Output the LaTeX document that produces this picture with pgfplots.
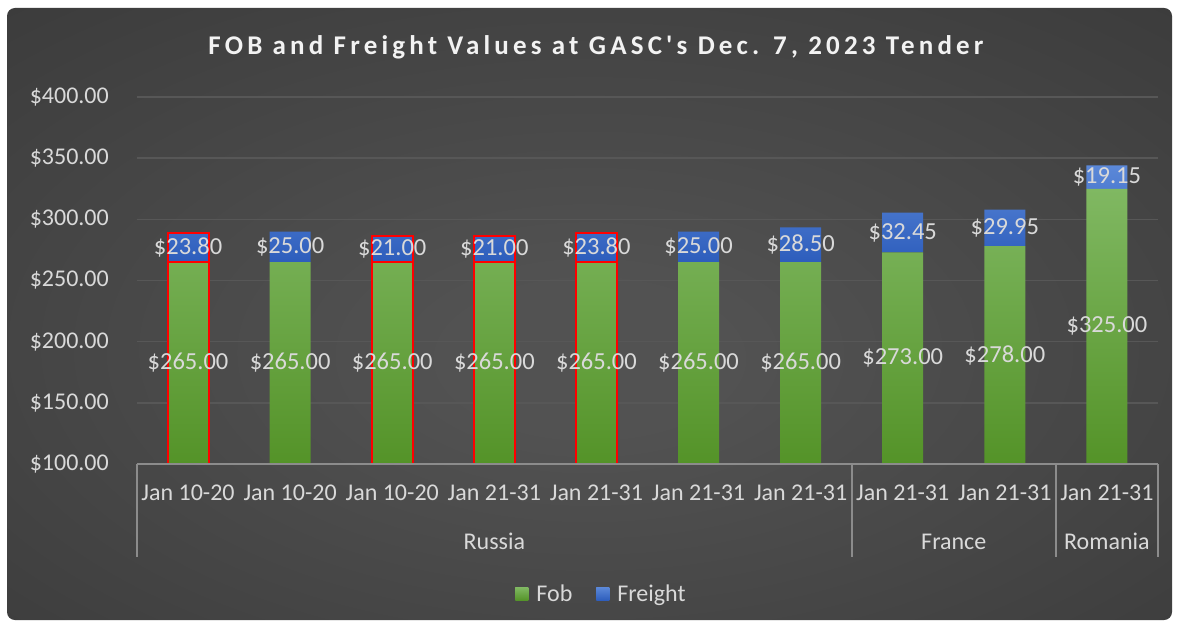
\documentclass[border=0pt]{standalone}
\usepackage{pgfplots}
\pgfplotsset{compat=1.18}
\usepackage{pgfplotstable}
\usepackage{fontspec}
\setmainfont{Carlito}
\newfontfamily\titlefont{Carlito}[LetterSpace=15.5]
\definecolor{bgin}{HTML}{525252}
\definecolor{bgout}{HTML}{232323}
\definecolor{gtop}{HTML}{80B862}
\definecolor{gbot}{HTML}{549328}
\definecolor{btop}{HTML}{5B88D8}
\definecolor{bbot}{HTML}{2D5DBC}
\definecolor{txt}{HTML}{D9D9D9}
\definecolor{gridc}{HTML}{575757}
\definecolor{axl}{HTML}{8C8C8C}
\definecolor{legg}{HTML}{70AD47}
\definecolor{legb}{HTML}{4472C4}
\pgfdeclareradialshading{bgshade}{\pgfpoint{0bp}{-4bp}}{color(0bp)=(bgin); color(6bp)=(bgin); color(72bp)=(bgout)}
\pgfkeys{/pgf/number format/assume math mode=true}

\pgfplotstableread{
x fob freight
0 265 23.80
1 265 25.00
2 265 21.00
3 265 21.00
4 265 23.80
5 265 25.00
6 265 28.50
7 273 32.45
8 278 29.95
9 325 19.15
}\data
\pgfplotstableread{
x fob freight
0 265 23.80
2 265 21.00
3 265 21.00
4 265 23.80
}\redbars

\begin{document}
\begin{tikzpicture}[x=1pt,y=1pt]
\useasboundingbox (0,0) rectangle (1177,625);
\fill[white] (0,0) rectangle (1177,625);
\shade[shading=bgshade, rounded corners=8pt] (7,5) rectangle (1172,617);
\node[text=white!95!black, font=\titlefont\bfseries\fontsize{27}{31}\selectfont] at (596,578) {FOB and Freight Values at GASC's Dec. 7, 2023 Tender};

\pgfplotsset{base/.style={
  scale only axis, width=1021pt, height=367pt,
  at={(137pt,161pt)}, anchor=south west,
  xmin=-0.5, xmax=9.5, ymin=100, ymax=400,
}}

\begin{axis}[base, ybar stacked, bar width=41pt,
  axis line style={draw=none},
  major tick length=0pt,
  ytick={100,150,...,400},
  ymajorgrids, grid style={gridc, line width=1.5pt},
  xtick={0,...,9},
  xticklabels={Jan 10-20,Jan 10-20,Jan 10-20,Jan 21-31,Jan 21-31,Jan 21-31,Jan 21-31,Jan 21-31,Jan 21-31,Jan 21-31},
  ticklabel style={font=\fontsize{24}{28}\selectfont, text=txt, inner sep=0pt},
  yticklabel={\$\pgfmathprintnumber[fixed,fixed zerofill,precision=2]{\tick}},
  yticklabel style={anchor=east, xshift=-28pt},
  xticklabel style={anchor=base, yshift=-36pt},
  legend style={at={(0.455,-0.354)}, anchor=center, draw=none, fill=none, text=txt,
    font=\fontsize{24}{28}\selectfont, legend columns=2,
    /tikz/every odd column/.append style={column sep=6pt},
    /tikz/every even column/.append style={column sep=22pt}},
  clip=true,
]
\addplot[draw=none, top color=gtop, bottom color=gbot,
  legend image code/.code={\fill[legg] (0pt,-6.5pt) rectangle (13pt,6.5pt);}]
  table[x=x,y=fob] {\data};
\addlegendentry{Fob}
\addplot[draw=none, top color=btop, bottom color=bbot,
  legend image code/.code={\fill[legb] (0pt,-6.5pt) rectangle (13pt,6.5pt);}]
  table[x=x,y=freight] {\data};
\addlegendentry{Freight}
\end{axis}

\begin{axis}[base, hide axis, clip=true]
\addplot[ybar, bar width=41pt, bar shift=0pt, draw=red, line width=2pt, fill=none]
  table[x=x, y expr={\thisrow{fob}+\thisrow{freight}}] {\redbars};
\addplot[ybar, bar width=41pt, bar shift=0pt, draw=red, line width=2pt, fill=none]
  table[x=x, y=fob] {\redbars};
\end{axis}

\begin{axis}[base, hide axis, clip=false,
  every node near coord/.append style={font=\fontsize{24.5}{28}\selectfont, text=txt, anchor=center},
  nodes near coords={\$\pgfmathprintnumber[fixed,fixed zerofill,precision=2]{\pgfplotspointmeta}},
]
\addplot[draw=none, mark=none, point meta=\thisrow{fob}]
  table[x=x, y expr={(100+\thisrow{fob})/2}] {\data};
\addplot[draw=none, mark=none, point meta=\thisrow{freight}]
  table[x=x, y expr={\thisrow{fob}+\thisrow{freight}/2}] {\data};
\draw[axl, line width=2pt] (axis cs:-0.5,100) -- (axis cs:9.5,100);
\draw[axl, line width=2pt] (axis cs:-0.5,100) -- ([yshift=-93pt]axis cs:-0.5,100);
\draw[axl, line width=2pt] (axis cs:6.5,100) -- ([yshift=-93pt]axis cs:6.5,100);
\draw[axl, line width=2pt] (axis cs:8.5,100) -- ([yshift=-93pt]axis cs:8.5,100);
\draw[axl, line width=2pt] (axis cs:9.5,100) -- ([yshift=-93pt]axis cs:9.5,100);
\node[anchor=base, text=txt, font=\fontsize{24}{28}\selectfont] at ([yshift=-85pt]axis cs:3,100) {Russia};
\node[anchor=base, text=txt, font=\fontsize{24}{28}\selectfont] at ([yshift=-85pt]axis cs:7.5,100) {France};
\node[anchor=base, text=txt, font=\fontsize{24}{28}\selectfont] at ([yshift=-85pt]axis cs:9,100) {Romania};
\end{axis}
\end{tikzpicture}
\end{document}
